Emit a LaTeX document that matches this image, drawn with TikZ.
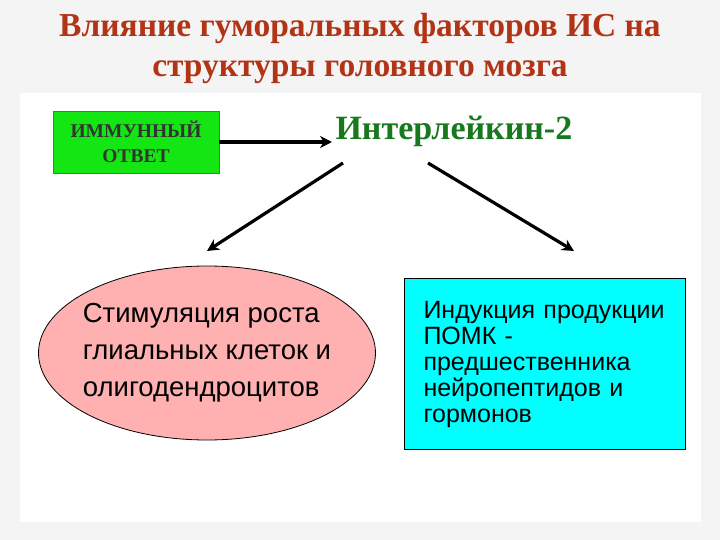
\documentclass[tikz,border=0pt]{standalone}
\usepackage{fontspec}
\setmainfont{Liberation Serif}
\newfontfamily\arialfont{Liberation Sans}
\usetikzlibrary{arrows.meta,shapes.geometric}
\definecolor{pagegray}{RGB}{244,244,244}
\definecolor{titlered}{RGB}{178,52,22}
\definecolor{ilgreen}{RGB}{24,120,30}
\definecolor{boxgreen}{RGB}{20,230,20}
\definecolor{ovalpink}{RGB}{255,176,176}
\definecolor{boxcyan}{RGB}{0,255,255}
\tikzset{
  headline/.style={font=\bfseries\fontsize{33.5}{40}\selectfont, text=titlered, align=center},
  greenbox/.style={draw=black!60, fill=boxgreen, minimum width=166pt, minimum height=62pt,
    align=center, font=\bfseries\fontsize{19.5}{25}\selectfont, text=black!80},
  pinkoval/.style={ellipse, draw, thick, fill=ovalpink, minimum width=337pt, minimum height=174pt,
    inner xsep=-40pt, inner ysep=-20pt, align=left, font=\arialfont\fontsize{27.5}{37}\selectfont},
  cyanbox/.style={draw, thick, fill=boxcyan, minimum width=281pt, minimum height=171pt,
    text width=243pt, inner xsep=19pt, align=left, font=\arialfont\fontsize{25}{26}\selectfont},
  link/.style={line width=3.2pt, -{Stealth[length=12pt,width=12pt]}}
}
\begin{document}
\begin{tikzpicture}[x=1pt,y=-1pt]
  % background and slide area
  \fill[pagegray] (0,0) rectangle (720,540);
  \fill[white] (20,93) rectangle (701,522);
  \node[headline] (title) at (360,48) {Влияние гуморальных факторов ИС на\\структуры головного мозга};
  \node[greenbox] (immune) at (136,142) {ИММУННЫЙ\\ОТВЕТ};
  \node[font=\bfseries\fontsize{34}{36}\selectfont, text=ilgreen, anchor=west] (il2) at (332,131) {Интерлейкин-2};
  \node[pinkoval] (glia) at (207,353) {Стимуляция роста\\глиальных клеток и\\олигодендроцитов};
  \node[cyanbox] (pomc) at (545,364) {Индукция продукции\\ПОМК -\\предшественника\\нейропептидов и\\гормонов};
  \coordinate (lstart) at (343,163);
  \coordinate (lend) at (207,251);
  \coordinate (rstart) at (428,163);
  \coordinate (rend) at (574,251);
  \begin{scope}[link]
    \draw (immune) to (immune -| il2.west);
    \draw (lstart) to (lend);
    \draw (rstart) to (rend);
  \end{scope}
\end{tikzpicture}
\end{document}
